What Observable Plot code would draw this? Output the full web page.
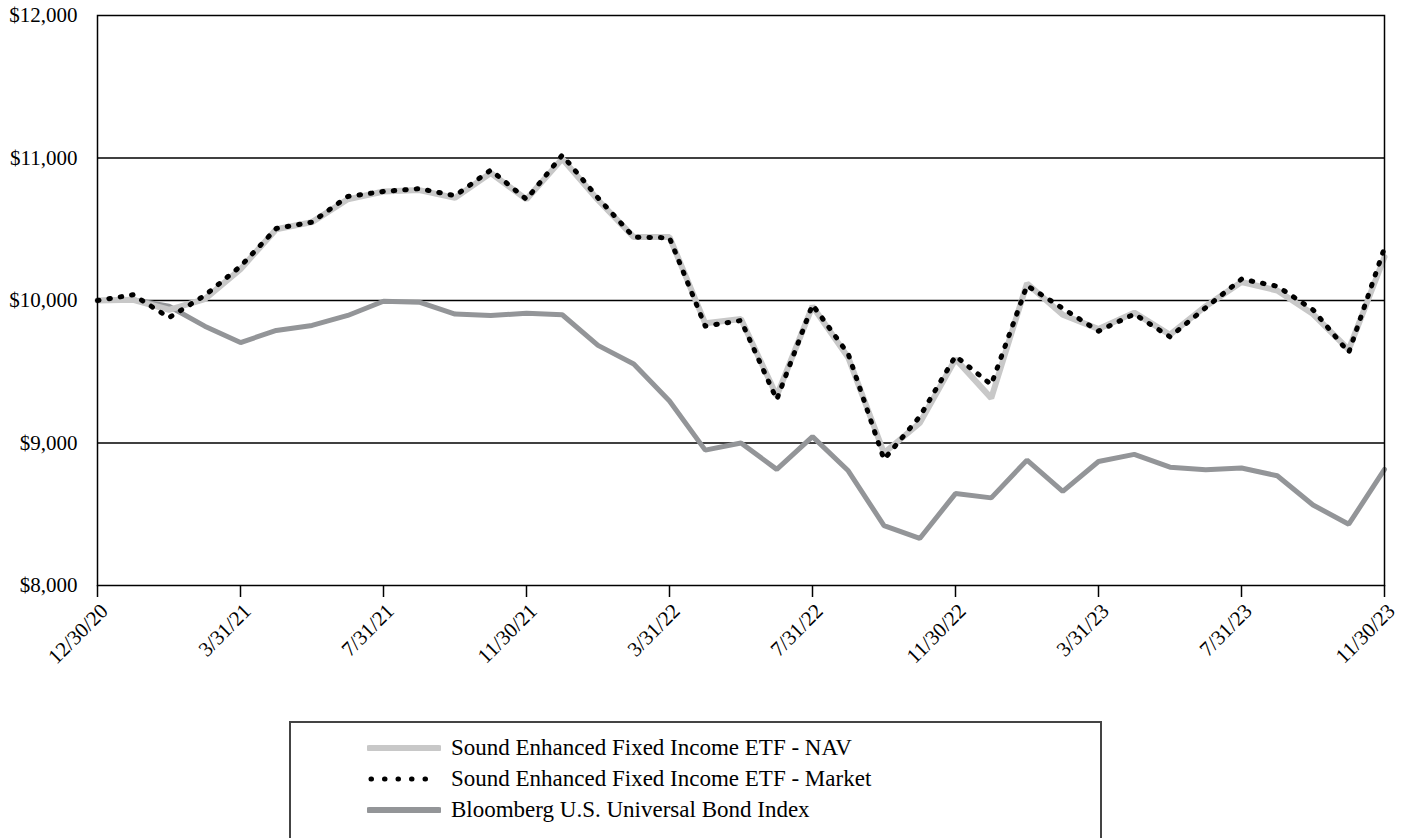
<!DOCTYPE html>
<html>
<head>
<meta charset="utf-8">
<script src="https://cdn.jsdelivr.net/npm/d3@7"></script>
<script src="https://cdn.jsdelivr.net/npm/@observablehq/plot@0.6"></script>
<style>
  html, body { margin: 0; padding: 0; background: #fff; }
  body { width: 1406px; height: 838px; overflow: hidden; font-family: "Liberation Serif", "Times New Roman", serif; }
  #legend { position: absolute; left: 289px; top: 721px; width: 813px; height: 140px; border: 2px solid #444; box-sizing: border-box; }
  .row { position: absolute; left: 76px; height: 30px; display: flex; align-items: center; font-size: 23px; color: #000; white-space: nowrap; }
  .row svg { margin-right: 10px; }
</style>
</head>
<body>
<div id="chart"></div>
<div id="legend"></div>
<script>
const dates = ["12/30/20","12/31/20","1/31/21","2/28/21","3/31/21","4/30/21","5/31/21","6/30/21","7/31/21","8/31/21","9/30/21","10/31/21","11/30/21","12/31/21","1/31/22","2/28/22","3/31/22","4/30/22","5/31/22","6/30/22","7/31/22","8/31/22","9/30/22","10/31/22","11/30/22","12/31/22","1/31/23","2/28/23","3/31/23","4/30/23","5/31/23","6/30/23","7/31/23","8/31/23","9/30/23","10/31/23","11/30/23"];
const tickDates = ["12/30/20","3/31/21","7/31/21","11/30/21","3/31/22","7/31/22","11/30/22","3/31/23","7/31/23","11/30/23"];
const yTicks = [8000, 9000, 10000, 11000, 12000];
const gridValues = [9000, 10000, 11000];

const nav = [10000,10005,9935,10010,10220,10500,10550,10710,10765,10775,10720,10895,10710,10995,10705,10445,10445,9840,9870,9330,9960,9600,8930,9140,9590,9315,10120,9900,9800,9915,9760,9960,10130,10070,9905,9655,10305];
const market = [10000,10040,9880,10035,10240,10505,10550,10730,10765,10785,10735,10915,10710,11020,10720,10445,10440,9820,9860,9305,9970,9625,8885,9185,9610,9410,10105,9945,9785,9905,9745,9950,10150,10100,9935,9635,10370];
const bond = [10000,10005,9960,9820,9705,9790,9825,9895,9995,9988,9905,9895,9910,9900,9685,9555,9295,8950,9000,8815,9045,8805,8420,8330,8645,8615,8880,8660,8870,8920,8830,8812,8825,8770,8565,8430,8815];

const seriesNames = ["Sound Enhanced Fixed Income ETF - NAV", "Sound Enhanced Fixed Income ETF - Market", "Bloomberg U.S. Universal Bond Index"];
const colors = ["#c8c8c8", "#000000", "#939598"];

const toRows = (vals) => dates.map((d, i) => ({date: d, value: vals[i]}));

const fmt = d3.format(",");
const chart = Plot.plot({
  width: 1406,
  height: 700,
  marginTop: 15,
  marginLeft: 97,
  marginRight: 22,
  marginBottom: 115,
  style: {fontFamily: "'Liberation Serif', 'Times New Roman', serif", fontSize: "21px", background: "#fff", color: "#000", overflow: "visible"},
  x: {type: "point", domain: dates, padding: 0, round: false, label: null},
  y: {domain: [8000, 12000], label: null},
  marks: [
    Plot.ruleY(gridValues, {stroke: "#000", strokeWidth: 1.3}),
    Plot.line(toRows(bond), {x: "date", y: "value", stroke: colors[2], strokeWidth: 5, strokeLinejoin: "miter"}),
    Plot.line(toRows(nav), {x: "date", y: "value", stroke: colors[0], strokeWidth: 6, strokeLinejoin: "miter"}),
    Plot.line(toRows(market), {x: "date", y: "value", stroke: colors[1], strokeWidth: 5, strokeDasharray: "1.5,10", strokeLinecap: "round"}),
    Plot.frame({stroke: "#000", strokeWidth: 1.5}),
    Plot.axisY({ticks: yTicks, tickSize: 0, tickPadding: 20, tickFormat: d => "$" + fmt(d), fontSize: 21}),
    Plot.axisX({ticks: tickDates, tickSize: 12, stroke: "#000", strokeWidth: 1.5, text: null}),
    Plot.axisX({ticks: tickDates, tickSize: 0, tickPadding: 22, tickRotate: -45, fontSize: 21, dx: 7})
  ]
});
document.getElementById("chart").appendChild(chart);

// legend
const legend = document.getElementById("legend");
const rowTops = [10, 41, 72];
seriesNames.forEach((name, i) => {
  const row = document.createElement("div");
  row.className = "row";
  row.style.top = rowTops[i] + "px";
  const ns = "http://www.w3.org/2000/svg";
  const svg = document.createElementNS(ns, "svg");
  svg.setAttribute("width", "74");
  svg.setAttribute("height", "12");
  const line = document.createElementNS(ns, "line");
  line.setAttribute("y1", "6"); line.setAttribute("y2", "6");
  if (i === 1) {
    line.setAttribute("x1", "4"); line.setAttribute("x2", "60");
    line.setAttribute("stroke-width", "5");
    line.setAttribute("stroke-dasharray", "0.5,13");
    line.setAttribute("stroke-linecap", "round");
  } else {
    line.setAttribute("x1", "2"); line.setAttribute("x2", "72");
    line.setAttribute("stroke-width", "6");
    line.setAttribute("stroke-linecap", "round");
  }
  line.setAttribute("stroke", colors[i]);
  svg.appendChild(line);
  row.appendChild(svg);
  const span = document.createElement("span");
  span.textContent = name;
  row.appendChild(span);
  legend.appendChild(row);
});
</script>
</body>
</html>
